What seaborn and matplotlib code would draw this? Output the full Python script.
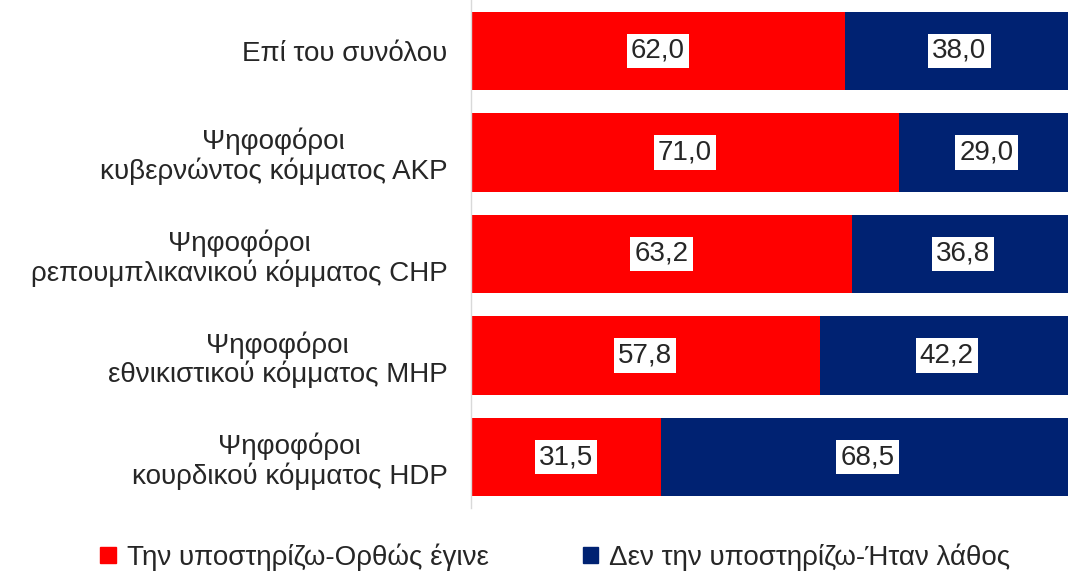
import matplotlib
matplotlib.use('Agg')
import matplotlib.pyplot as plt
from matplotlib.patches import Patch
import pandas as pd
import seaborn as sns

# Δεδομένα
categories = [
    'Επί του συνόλου',
    'Ψηφοφόροι\nκυβερνώντος κόμματος AKP',
    'Ψηφοφόροι\nρεπουμπλικανικού κόμματος CHP',
    'Ψηφοφόροι\nεθνικιστικού κόμματος MHP',
    'Ψηφοφόροι\nκουρδικού κόμματος HDP',
]
support = [62.0, 71.0, 63.2, 57.8, 31.5]
oppose = [38.0, 29.0, 36.8, 42.2, 68.5]
series_names = ['Την υποστηρίζω-Ορθώς έγινε', 'Δεν την υποστηρίζω-Ήταν λάθος']

RED = '#FF0000'
NAVY = '#002272'
FS = 20

df = pd.DataFrame({'cat': categories, 'support': support, 'oppose': oppose})
df['total'] = df['support'] + df['oppose']

sns.set_style('white')
plt.rcParams['font.family'] = ['Liberation Sans', 'DejaVu Sans']

fig = plt.figure(figsize=(10.68, 5.79), dpi=100)
ax = fig.add_axes([471 / 1068, 1 - 508 / 579, 603 / 1068, 508 / 579])

# Συνολική μπάρα (μπλε) και από πάνω η κόκκινη
sns.barplot(data=df, x='total', y='cat', color=NAVY, saturation=1, width=0.77,
            orient='h', ax=ax, linewidth=0)
sns.barplot(data=df, x='support', y='cat', color=RED, saturation=1, width=0.77,
            orient='h', ax=ax, linewidth=0)

box = dict(boxstyle='square,pad=0.15', fc='white', ec='none')
for i, (s, o) in enumerate(zip(support, oppose)):
    ax.text(s / 2, i, f'{s:.1f}'.replace('.', ','), ha='center', va='center',
            fontsize=FS, color='#262626', bbox=box)
    ax.text(s + o / 2, i, f'{o:.1f}'.replace('.', ','), ha='center', va='center',
            fontsize=FS, color='#262626', bbox=box)

ax.set_xlim(0, 100)
ax.set_ylim(4.5, -0.5)
ax.set_xlabel('')
ax.set_ylabel('')
ax.set_xticks([])
ax.tick_params(axis='y', length=0, pad=17, labelsize=FS, labelcolor='#262626')
for t in ax.get_yticklabels():
    t.set_multialignment('center')
    t.set_linespacing(1.1)

for sp in ['top', 'right', 'bottom']:
    ax.spines[sp].set_visible(False)
ax.spines['left'].set_color('#d9d9d9')
ax.spines['left'].set_linewidth(1)

handles = [Patch(color=RED), Patch(color=NAVY)]
fig.legend(handles, series_names, loc='center', bbox_to_anchor=(0.52, 0.038),
           ncol=2, frameon=False, fontsize=FS, handlelength=0.55, handleheight=0.55,
           handletextpad=0.4, columnspacing=3.4, labelcolor='#262626')

fig.savefig('out.png', dpi=100)
